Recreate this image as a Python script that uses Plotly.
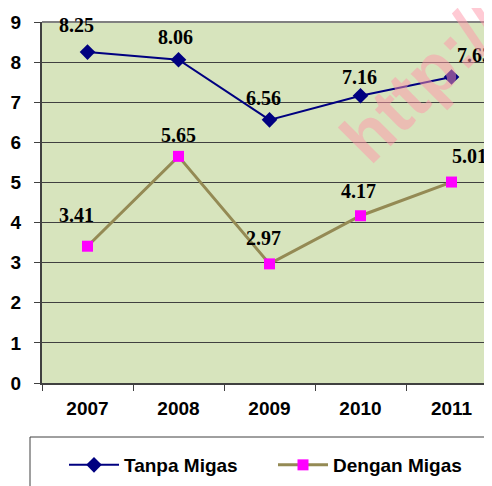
import plotly.graph_objects as go

years = ["2007", "2008", "2009", "2010", "2011"]
tanpa_migas = [8.25, 8.06, 6.56, 7.16, 7.63]
dengan_migas = [3.41, 5.65, 2.97, 4.17, 5.01]
y_ticks = [0, 1, 2, 3, 4, 5, 6, 7, 8, 9]

# label offsets (px) relative to each point
tanpa_shift = [(-11, 27), (-3, 23), (-6, 22), (-1, 19), (23, 22)]
dengan_shift = [(-11, 31), (0, 21), (-6, 26), (-2, 25), (18, 26)]

AX = "Liberation Sans"
SERIF = "Liberation Serif"

fig = go.Figure()
fig.add_trace(go.Scatter(
    x=years, y=tanpa_migas, name="Tanpa Migas", mode="lines+markers",
    line=dict(color="#000080", width=2),
    marker=dict(symbol="diamond", size=12, color="#000080"),
))
fig.add_trace(go.Scatter(
    x=years, y=dengan_migas, name="Dengan Migas", mode="lines+markers",
    line=dict(color="#948A54", width=3),
    marker=dict(symbol="square", size=11, color="#FF00FF"),
))

anns = []
for series, shifts in ((tanpa_migas, tanpa_shift), (dengan_migas, dengan_shift)):
    for i, (v, (dx, dy)) in enumerate(zip(series, shifts)):
        anns.append(dict(
            x=i, y=v, xref="x", yref="y", text=f"{v:.2f}",
            showarrow=False, xshift=dx, yshift=dy,
            font=dict(family=SERIF, size=20, color="black", weight="bold"),
        ))

# watermark
anns.append(dict(
    x=0.845, y=0.836, xref="paper", yref="paper", text="http://",
    showarrow=False, textangle=-45, xanchor="center", yanchor="middle",
    font=dict(family=AX, size=70, color="rgba(255,150,170,0.5)", weight="bold"),
))

fig.update_layout(
    width=484, height=478,
    margin=dict(l=34, r=0, t=14, b=103),
    paper_bgcolor="white", plot_bgcolor="#D7E4BD",
    showlegend=True,
    legend=dict(
        orientation="h", x=(64 - 42) / 450, xanchor="left",
        yref="container", y=1 - (465 - 8) / 478, yanchor="middle",
        font=dict(family=AX, size=19, color="black", weight="bold"),
        bgcolor="rgba(0,0,0,0)", entrywidth=144, entrywidthmode="pixels",
        itemwidth=50,
    ),
    annotations=anns,
    shapes=[
        dict(type="line", xref="paper", yref="paper", x0=0, x1=1.05, y0=1, y1=1,
             line=dict(color="#808080", width=2)),
        dict(type="rect", xref="paper", yref="paper",
             x0=(30 - 42) / 450, x1=1.1, y0=-0.5, y1=(383 - 437) / 361,
             line=dict(color="#404040", width=1), fillcolor="rgba(0,0,0,0)"),
    ],
)

fig.update_xaxes(
    type="category", range=[-0.5, -0.5 + 450 / 91],
    showgrid=False, showline=True, linecolor="#404040", linewidth=2,
    ticks="outside", tickson="boundaries", ticklen=6, tickcolor="#404040",
    tickfont=dict(family=AX, size=19, color="black", weight="bold"),
    ticklabelstandoff=7,
)
fig.update_yaxes(
    range=[0, 9], tickvals=y_ticks,
    showgrid=True, gridcolor="#404040", gridwidth=1,
    showline=True, linecolor="#404040", linewidth=2, zeroline=False,
    ticks="outside", ticklen=6, tickcolor="#404040",
    tickfont=dict(family=AX, size=19, color="black", weight="bold"),
    ticklabelstandoff=9,
)

fig.write_html("out.html")
